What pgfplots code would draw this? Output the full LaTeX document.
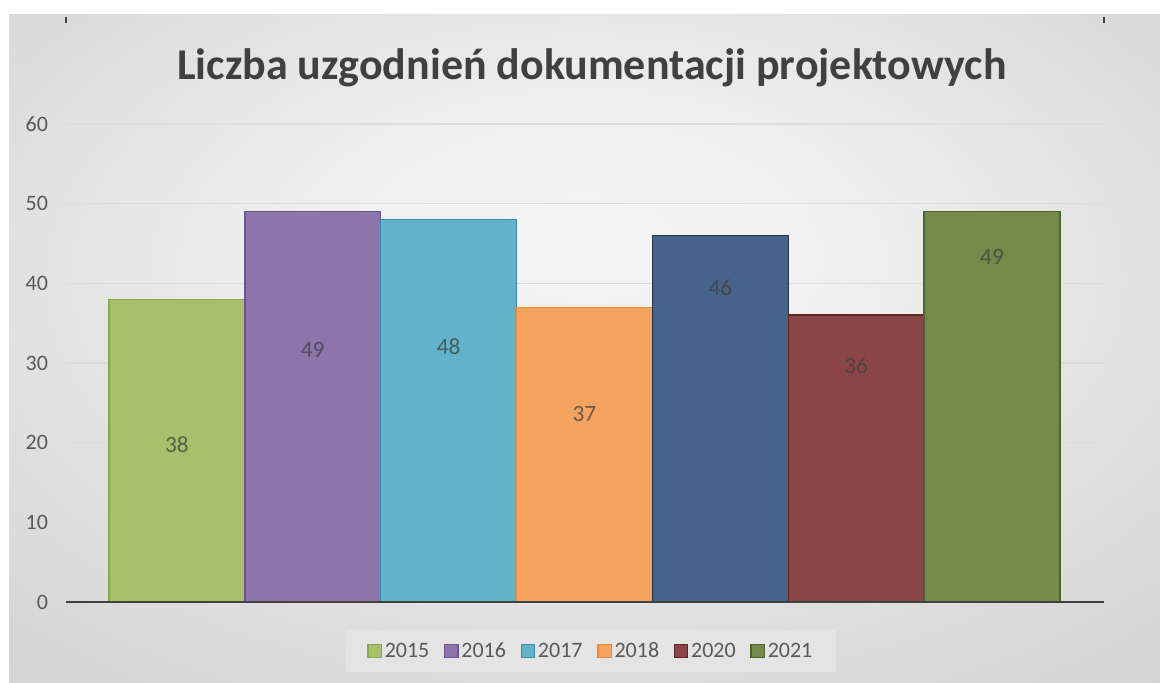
\documentclass[border=0pt]{standalone}
\usepackage{fontspec}
\setmainfont{Carlito}
\usepackage{pgfplots}
\pgfplotsset{compat=1.18}

\definecolor{txt}{HTML}{404040}
\definecolor{ticktxt}{HTML}{595959}
\definecolor{gridc}{HTML}{DCDCDC}
\definecolor{legbg}{HTML}{E4E4E4}
\definecolor{fA}{HTML}{A6C16A}\definecolor{dA}{HTML}{89A84E}
\definecolor{fB}{HTML}{8D74AB}\definecolor{dB}{HTML}{6C558E}
\definecolor{fC}{HTML}{62B2CA}\definecolor{dC}{HTML}{3C8BA6}
\definecolor{fD}{HTML}{F5A35E}\definecolor{dD}{HTML}{EE8730}
\definecolor{fE}{HTML}{46638A}\definecolor{dE}{HTML}{24344F}
\definecolor{fF}{HTML}{8A4547}\definecolor{dF}{HTML}{5F2628}
\definecolor{fG}{HTML}{738A4A}\definecolor{dG}{HTML}{4F6331}

% soft grey background, lightest a bit above the middle
\pgfdeclareradialshading{bgshade}{\pgfpoint{0bp}{8bp}}{%
  rgb(0bp)=(0.955,0.955,0.955); rgb(10bp)=(0.945,0.945,0.945);
  rgb(30bp)=(0.86,0.86,0.86); rgb(45bp)=(0.80,0.80,0.80);
  rgb(65bp)=(0.75,0.75,0.75)}

\begin{document}
\begin{tikzpicture}
% image is 1160x682 px, 1px = 0.75pt, origin top left
\useasboundingbox (0,0) rectangle (870pt,-511.5pt);
\fill[white] (0,0) rectangle (870pt,-511.5pt);
\shade[shading=bgshade] (6.75pt,-10.5pt) rectangle (870pt,-511.5pt);
\draw[txt, line width=2pt] (49.5pt,-12.5pt) -- (49.5pt,-17.5pt);
\draw[txt, line width=2pt] (828pt,-12.5pt) -- (828pt,-17.5pt);
\node[font=\bfseries\fontsize{33}{40}\selectfont, text=txt] at (444pt,-51pt)
  {Liczba uzgodnień dokumentacji projektowych};

\begin{axis}[
    at={(49.5pt,-451.5pt)}, anchor=south west,
    scale only axis,
    width=778.5pt, height=358.5pt,
    xmin=0.184, xmax=7.824,
    ymin=0, ymax=60,
    ytick={0,10,...,60},
    xtick=\empty,
    ymajorgrids,
    major grid style={gridc, line width=1pt},
    axis line style={draw=none},
    tick style={draw=none},
    /pgf/number format/assume math mode=true,
    yticklabel style={font=\fontsize{16.5}{20}\selectfont, text=ticktxt, xshift=-10pt},
    mybar/.style={ybar, bar width=1, bar shift=0pt, line width=1.1pt},
    legend columns=6,
    legend style={at={(0.506,-0.1025)}, anchor=center, fill=legbg, draw=none,
        font=\fontsize{16.5}{20}\selectfont, text=ticktxt,
        inner xsep=16pt, inner ysep=7pt,
        /tikz/every odd column/.append style={column sep=0pt},
        /tikz/every even column/.append style={column sep=9pt}},
    legend image code/.code={\draw[#1, line width=1pt] (0pt,-5pt) rectangle (10pt,5pt);},
]
\addplot[mybar, fill=fA, draw=dA] coordinates {(1,38)};
\addlegendentry{2015}
\addplot[mybar, fill=fB, draw=dB] coordinates {(2,49)};
\addlegendentry{2016}
\addplot[mybar, fill=fC, draw=dC] coordinates {(3,48)};
\addlegendentry{2017}
\addplot[mybar, fill=fD, draw=dD] coordinates {(4,37)};
\addlegendentry{2018}
\addplot[mybar, fill=fE, draw=dE, forget plot] coordinates {(5,46)};
\addplot[mybar, fill=fF, draw=dF] coordinates {(6,36)};
\addlegendentry{2020}
\addplot[mybar, fill=fG, draw=dG] coordinates {(7,49)};
\addlegendentry{2021}

\draw[txt, line width=2.25pt] (rel axis cs:0,0) -- (rel axis cs:1,0);

\begin{scope}[every node/.style={font=\fontsize{17.5}{21}\selectfont, text=txt, text opacity=0.75}]
\node at (axis cs:1,19.7) {38};
\node at (axis cs:2,31.6) {49};
\node at (axis cs:3,32.0) {48};
\node at (axis cs:4,23.6) {37};
\node at (axis cs:5,39.4) {46};
\node at (axis cs:6,29.7) {36};
\node at (axis cs:7,43.3) {49};
\end{scope}
\end{axis}
\end{tikzpicture}
\end{document}
